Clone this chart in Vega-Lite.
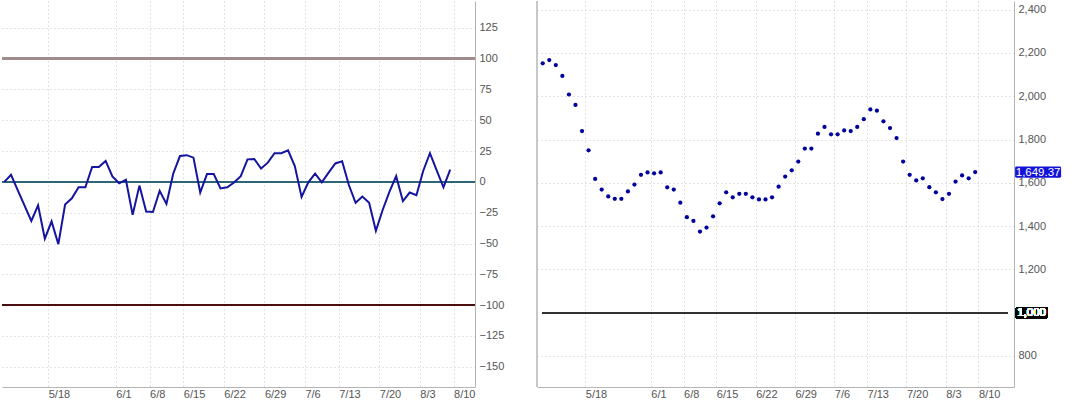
{
  "$schema": "https://vega.github.io/schema/vega-lite/v6.json",
  "background": "white",
  "padding": 0,
  "spacing": 62,
  "bounds": "flush",
  "datasets": {
    "series": [
      {"d": 0, "osc": 0, "px": 2152}, {"d": 1, "osc": 5.8, "px": 2167}, {"d": 2, "osc": -6.8, "px": 2144},
      {"d": 3, "osc": -19.3, "px": 2094}, {"d": 4, "osc": -31.7, "px": 2008}, {"d": 5, "osc": -19, "px": 1960},
      {"d": 6, "osc": -46, "px": 1839}, {"d": 7, "osc": -32, "px": 1750}, {"d": 8, "osc": -50.5, "px": 1618},
      {"d": 9, "osc": -18.3, "px": 1569}, {"d": 10, "osc": -13.3, "px": 1537}, {"d": 11, "osc": -4.4, "px": 1526},
      {"d": 12, "osc": -4.4, "px": 1526}, {"d": 13, "osc": 12.2, "px": 1560}, {"d": 14, "osc": 12.2, "px": 1592},
      {"d": 15, "osc": 17, "px": 1637}, {"d": 16, "osc": 4.4, "px": 1648}, {"d": 17, "osc": -1.1, "px": 1644},
      {"d": 18, "osc": 1.7, "px": 1648}, {"d": 19, "osc": -26.7, "px": 1579}, {"d": 20, "osc": -3, "px": 1569},
      {"d": 21, "osc": -24, "px": 1508}, {"d": 22, "osc": -24.4, "px": 1441}, {"d": 23, "osc": -7.2, "px": 1424},
      {"d": 24, "osc": -17.8, "px": 1375}, {"d": 25, "osc": 6.7, "px": 1393}, {"d": 26, "osc": 21, "px": 1445},
      {"d": 27, "osc": 21.7, "px": 1505}, {"d": 28, "osc": 19.7, "px": 1556}, {"d": 29, "osc": -8.6, "px": 1533},
      {"d": 30, "osc": 6.4, "px": 1549}, {"d": 31, "osc": 6.4, "px": 1549}, {"d": 32, "osc": -5.3, "px": 1533},
      {"d": 33, "osc": -4.4, "px": 1523}, {"d": 34, "osc": -0.5, "px": 1523}, {"d": 35, "osc": 4.7, "px": 1533},
      {"d": 36, "osc": 18.3, "px": 1582}, {"d": 37, "osc": 18.6, "px": 1629}, {"d": 38, "osc": 10.8, "px": 1658},
      {"d": 39, "osc": 15.6, "px": 1698}, {"d": 40, "osc": 23.3, "px": 1758}, {"d": 41, "osc": 23.3, "px": 1758},
      {"d": 42, "osc": 25.6, "px": 1827}, {"d": 43, "osc": 12.8, "px": 1858}, {"d": 44, "osc": -12.2, "px": 1824},
      {"d": 45, "osc": -0.3, "px": 1824}, {"d": 46, "osc": 6.7, "px": 1842}, {"d": 47, "osc": -0.3, "px": 1839},
      {"d": 48, "osc": 7.5, "px": 1858}, {"d": 49, "osc": 15, "px": 1894}, {"d": 50, "osc": 16.7, "px": 1939},
      {"d": 51, "osc": -2.5, "px": 1933}, {"d": 52, "osc": -16.9, "px": 1884}, {"d": 53, "osc": -11.9, "px": 1853},
      {"d": 54, "osc": -16.9, "px": 1807}, {"d": 55, "osc": -39.7, "px": 1698}, {"d": 56, "osc": -22.8, "px": 1637},
      {"d": 57, "osc": -8, "px": 1611}, {"d": 58, "osc": 4.7, "px": 1621}, {"d": 59, "osc": -15.6, "px": 1580},
      {"d": 60, "osc": -8.6, "px": 1556}, {"d": 61, "osc": -10.8, "px": 1525}, {"d": 62, "osc": 8.9, "px": 1549},
      {"d": 63, "osc": 23.3, "px": 1606}, {"d": 64, "osc": 9.4, "px": 1634}, {"d": 65, "osc": -4.4, "px": 1621},
      {"d": 66, "osc": 10, "px": 1649.37}
    ]
  },
  "data": {"name": "series"},
  "hconcat": [
    {
      "width": 473,
      "height": 386,
      "layer": [
        {
          "mark": {"type": "rule", "color": "#a08c8a", "strokeWidth": 2},
          "encoding": {
            "y": {
              "datum": 100,
              "type": "quantitative",
              "title": null,
              "scale": {"domain": [-166.4, 146.8], "nice": false, "zero": false},
              "axis": {
                "orient": "right",
                "values": [-150, -125, -100, -75, -50, -25, 0, 25, 50, 75, 100, 125],
                "labelPadding": 4
              }
            }
          }
        },
        {
          "mark": {"type": "rule", "color": "#2d6676", "strokeWidth": 1.2},
          "encoding": {
            "y": {
              "datum": 0,
              "type": "quantitative",
              "title": null,
              "axis": {
                "orient": "right",
                "values": [-150, -125, -100, -75, -50, -25, 0, 25, 50, 75, 100, 125],
                "labelPadding": 4
              }
            }
          }
        },
        {
          "mark": {"type": "rule", "color": "#4a0e0e", "strokeWidth": 1.5},
          "encoding": {
            "y": {
              "datum": -100,
              "type": "quantitative",
              "title": null,
              "axis": {
                "orient": "right",
                "values": [-150, -125, -100, -75, -50, -25, 0, 25, 50, 75, 100, 125],
                "labelPadding": 4
              }
            }
          }
        },
        {
          "mark": {"type": "line", "color": "#1414a0", "strokeWidth": 2},
          "encoding": {
            "x": {
              "field": "d",
              "type": "quantitative",
              "title": null,
              "scale": {"domain": [-0.34, 69.67], "nice": false, "zero": false},
              "axis": {
                "orient": "bottom",
                "values": [6.5, 16.5, 21.5, 26.5, 32.5, 38.5, 44.5, 49.5, 55.5, 61.5, 66.5],
                "labelExpr": "['5/18','6/1','6/8','6/15','6/22','6/29','7/6','7/13','7/20','8/3','8/10'][indexof([6.5,16.5,21.5,26.5,32.5,38.5,44.5,49.5,55.5,61.5,66.5], datum.value)]",
                "labelAlign": "left",
                "labelPadding": 1
              }
            },
            "y": {
              "field": "osc",
              "type": "quantitative",
              "title": null,
              "axis": {
                "orient": "right",
                "values": [-150, -125, -100, -75, -50, -25, 0, 25, 50, 75, 100, 125],
                "labelPadding": 4
              }
            }
          }
        }
      ]
    },
    {
      "width": 477,
      "height": 386,
      "layer": [
        {
          "mark": {"type": "rule", "color": "#c4c8cc", "strokeWidth": 1},
          "encoding": {
            "x": {
              "datum": -0.87,
              "type": "quantitative",
              "title": null,
              "scale": {"domain": [-0.87, 71.92], "nice": false, "zero": false},
              "axis": {
                "orient": "bottom",
                "values": [6.5, 16.5, 21.5, 26.5, 32.5, 38.5, 44.5, 49.5, 55.5, 61.5, 66.5],
                "labelExpr": "['5/18','6/1','6/8','6/15','6/22','6/29','7/6','7/13','7/20','8/3','8/10'][indexof([6.5,16.5,21.5,26.5,32.5,38.5,44.5,49.5,55.5,61.5,66.5], datum.value)]",
                "labelAlign": "left",
                "labelPadding": 1
              }
            }
          }
        },
        {
          "mark": {"type": "point", "filled": true, "color": "#00009c", "size": 18, "opacity": 1},
          "encoding": {
            "x": {"field": "d", "type": "quantitative"},
            "y": {
              "field": "px",
              "type": "quantitative",
              "title": null,
              "scale": {"domain": [656.6, 2440], "nice": false, "zero": false},
              "axis": {
                "orient": "right",
                "values": [800, 1200, 1400, 1600, 1800, 2000, 2200, 2400],
                "labelExpr": "format(datum.value, ',')",
                "labelPadding": 4
              }
            }
          }
        },
        {
          "mark": {"type": "rule", "color": "#333333", "strokeWidth": 1.3},
          "encoding": {
            "x": {"datum": 0, "type": "quantitative"},
            "x2": {"datum": 71},
            "y": {"datum": 1000, "type": "quantitative"}
          }
        },
        {
          "transform": [{"filter": "datum.d == 66"}],
          "mark": {
            "type": "point",
            "filled": true,
            "color": "#1212d8",
            "opacity": 1,
            "size": 2116,
            "strokeWidth": 0,
            "shape": "M-0.94,-0.244H0.94Q1,-0.244 1,-0.18V0.18Q1,0.244 0.94,0.244H-0.94Q-1,0.244 -1,0.18V-0.18Q-1,-0.244 -0.94,-0.244Z"
          },
          "encoding": {
            "x": {"datum": 75.6, "type": "quantitative"},
            "y": {"field": "px", "type": "quantitative"}
          }
        },
        {
          "transform": [{"filter": "datum.d == 66"}],
          "mark": {"type": "text", "color": "white", "fontSize": 11.5, "font": "Liberation Sans Narrow, Arial Narrow, Liberation Sans, sans-serif", "align": "center", "baseline": "middle", "dy": 0.5},
          "encoding": {
            "x": {"datum": 75.6, "type": "quantitative"},
            "y": {"field": "px", "type": "quantitative"},
            "text": {"field": "px", "type": "quantitative", "format": ",.2f"}
          }
        },
        {
          "mark": {
            "type": "point",
            "filled": true,
            "color": "#000000",
            "opacity": 1,
            "size": 1024,
            "strokeWidth": 0,
            "shape": "M-0.9,-0.344H0.9Q1,-0.344 1,-0.25V0.25Q1,0.344 0.9,0.344H-0.9Q-1,0.344 -1,0.25V-0.25Q-1,-0.344 -0.9,-0.344Z"
          },
          "encoding": {
            "x": {"datum": 74.6, "type": "quantitative"},
            "y": {"datum": 1000, "type": "quantitative"}
          }
        },
        {
          "mark": {"type": "text", "color": "white", "fontSize": 11.5, "font": "Liberation Sans Narrow, Arial Narrow, Liberation Sans, sans-serif", "align": "center", "baseline": "middle", "dy": 0.5},
          "encoding": {
            "x": {"datum": 74.6, "type": "quantitative"},
            "y": {"datum": 1000, "type": "quantitative"},
            "text": {"datum": 1000, "format": ","}
          }
        }
      ]
    }
  ],
  "config": {
    "view": {"stroke": null},
    "axis": {
      "grid": true,
      "gridColor": "#c8c8c8",
      "gridDash": [1, 3],
      "gridWidth": 1,
      "domainColor": "#b4b4b4",
      "domainWidth": 1,
      "ticks": false,
      "labelOverlap": false,
      "labelColor": "#555555",
      "labelFont": "Liberation Sans Narrow, Arial Narrow, Liberation Sans, sans-serif",
      "labelFontSize": 11
    }
  }
}
